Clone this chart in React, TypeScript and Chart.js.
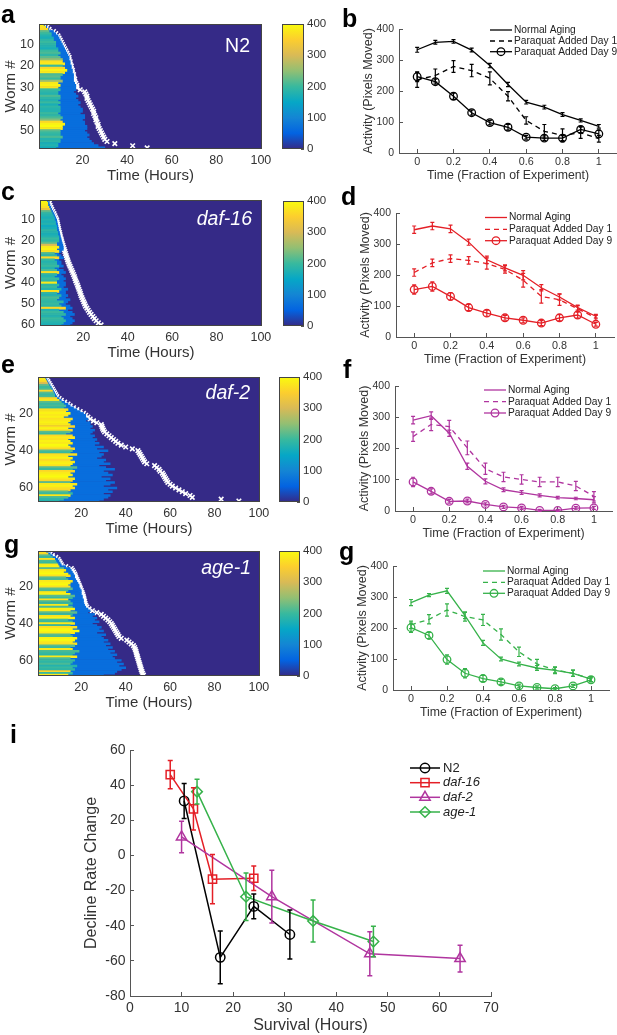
import React, { useEffect, useRef } from 'react';
import { Chart, registerables } from 'chart.js';
import { drawPoint } from 'chart.js/helpers';

Chart.register(...registerables);

const FONT = "'Liberation Sans', Arial, Helvetica, sans-serif";
Chart.defaults.font.family = FONT;
Chart.defaults.color = '#333';

const W = 617;
const H = 1035;

// ---------------- DATA ----------------
const HEAT_TIME_TICKS = [20, 40, 60, 80, 100];
const COLORBAR_TICKS = [0, 100, 200, 300, 400];
const MID_ACTIVITY = 66;

const N2_WORM_TICKS = [10, 20, 30, 40, 50];
const N2_DEATH = [3,4,5,7,8,9,9.5,10,10.5,11, 11.5,12,12.5,13,13.5,14,14,14.5,14.5,15, 15,15.5,15.5,16,16,16.5,16.5,17,17.5,17.5, 19,21,21.5,22,22,22.5,23,23.5,24,24.5, 25,25,25.5,26,26,26.5,27,27,27.5,28, 28.5,29,29.5,30,31,34.5,42.5,49];
const N2_HI_END = [2.5,3.5,4.5,5,6,6,7,7,8,8, 8,9,9,10,9,10,11,11,12,11, 12,13,12,11,10,10,11,9,10,9, 10,9,9,10,10,9,10,9,10,10, 10,9,10,11,10,11,12,11,11,10, 10,10,11,10,10,9,9,8];
const N2_HI_LEVEL = [390,370,360,220,200,180,170,190,200,190, 180,170,200,210,190,220,250,370,380,200, 360,390,380,210,220,200,260,380,390,370, 200,190,180,210,190,180,200,170,190,180, 180,200,190,210,240,360,390,400,380,220, 200,190,210,180,190,170,180,160];
const N2_MID_END = [3,4,5,7,8,9,9.5,10,10.5,11, 11.5,12,12.5,13,13.5,14,14,14.5,14.5,15, 15,15.5,15.5,16,16,16,16,16.5,17,17, 17,16,17,18,17,18,19,18,19,20, 20,19,21,21,20,21,21,22,22,21, 22,23,22,23,24,25,27,30];

const D16_WORM_TICKS = [10, 20, 30, 40, 50, 60];
const D16_DEATH = [4.3,4.7,5,5.4,5.8,6.3,6.8,7.2,7.6,8, 8.2,8.4,8.6,8.8,9,9.3,9.5,9.7,10,10.2, 10.5,10.8,11.1,11.4,11.7,12,12.3,12.6,12.9,13.2, 13.6,14,14.4,14.8,15.2,15.6,16,16.3,16.6,17, 17.4,17.7,18,18.4,18.7,19,19.4,19.8,20.2,20.6, 21,21.6,22.2,22.8,23.5,24.3,25,25.8,26.8,28];
const D16_HI_END = [3.5,4,4,4.5,5,5.5,6,6.5,7,7, 7.5,7.5,8,8,8,8.5,8.5,9,9,9, 8,8,9,8,9,7,8,9,7,8, 8,9,7,8,9,8,7,9,8,8, 9,8,10,9,8,10,9,8,11,9, 10,12,9,11,12,10,11,12,11,10];
const D16_HI_LEVEL = [400,390,380,370,330,220,190,180,170,180, 170,180,160,170,190,180,170,180,200,190, 220,300,380,390,370,210,190,360,200,180, 190,200,180,210,370,190,180,200,190,380, 190,200,180,370,190,180,210,200,190,200, 190,360,180,200,190,180,200,190,180,170];
const D16_MID_END = [4.3,4.7,5,5.4,5.8,6.3,6.8,7.2,7.6,8, 8.2,8.4,8.6,8.8,9,9.3,9.5,9.7,10,10.2, 10.5,10.8,11,11,10,9,10,11,9,10, 10,11,9,11,12,10,11,12,11,12, 12,11,13,12,12,13,12,14,13,12, 14,15,13,15,16,14,15,16,15,14];

const D2_WORM_TICKS = [20, 40, 60];
const D2_DEATH = [4,4.5,5,5.5,6,6.5,7,7.5,8,8.5, 9,10,11,12.5,14,15,16.5,18,19.5,21, 22,23,24,25.5,27,29,29.3,29.6,30,30.5, 31.5,32.5,33.5,34.5,35.5,36.5,38,40,43,45.5, 46,46.5,47,47.5,48,48.5,49.5,53,54,55, 55.5,56.5,57,57.5,58,58.5,59,60,61,62.5, 64,65.5,67,69,70,83,91];
const D2_HI_END = [3.5,4,4.5,5,5.5,6,6.5,7,7.5,8, 8,9,10,11,12,13,12,14,13,15, 14,12,16,15,14,15,17,14,16,15, 13,16,17,14,15,16,14,15,17,16, 15,18,14,16,15,17,16,15,18,16, 17,15,16,14,17,16,15,18,16,17, 15,14,16,15,14,12,10];
const D2_HI_LEVEL = [390,380,360,300,220,200,210,360,220,200, 210,360,380,220,200,210,190,370,380,390, 380,390,370,380,390,380,360,390,370,220, 200,360,380,370,390,380,400,390,360,220, 200,370,380,390,360,380,390,370,220,200, 360,380,390,400,380,360,220,380,390,370, 360,220,200,380,210,190,180];
const D2_MID_END = [4,4.5,5,5.5,6,6.5,7,7.5,8,8.5, 9,10,11,12.5,14,15,16.5,18,19.5,21, 22,22,23,22,24,24,25,24,26,25, 24,26,25,27,26,28,26,30,27,32, 28,30,29,27,31,30,33,28,31,35, 30,32,34,29,33,31,35,33,30,36, 32,34,30,33,32,30,28];

const A1_WORM_TICKS = [20, 40, 60];
const A1_DEATH = [5,6,7,8.5,9.5,10,10.5,11,13,15.5, 16,16.5,17,17.3,17.6,18,18.3,18.6,19,19.3, 19.6,20,20.3,20.6,20.9,21.1,21.3,21.5,21.7,22, 22.5,23.5,25,27,29,30,31,32,32.8,33.5, 34,34.5,35,35.5,36,36.5,37,38,40.5,41.5, 42.5,43.5,44,44.3,44.6,44.8,45,45.3,45.5,45.8, 46,46.3,46.5,46.8,47,47.3,47.6,48];
const A1_HI_END = [4,5,6,7,8,8.5,9,9.5,10,12, 13,12,14,15,13,14,16,15,14,15, 16,14,13,15,17,16,14,15,16,14, 16,17,15,18,16,15,17,14,16,17, 15,18,16,19,17,15,16,18,17,16, 18,17,15,16,19,17,16,18,15,17, 16,15,18,16,17,15,16,14];
const A1_HI_LEVEL = [380,360,220,200,370,210,200,380,390,220, 380,390,400,370,220,210,380,390,400,370, 220,210,380,390,220,200,370,210,200,380, 210,390,380,220,200,370,390,210,200,380, 200,370,390,400,380,220,210,390,400,380, 370,220,200,380,210,200,190,380,210,200, 190,210,180,200,190,360,200,380];
const A1_MID_END = [5,6,7,8.5,9.5,10,10.5,11,13,15, 15.5,16,16.5,17,17,17.5,18,18.5,19,19, 19.5,20,20,20,20.5,20.5,21,21,21.2,21.5, 22,23,24,23,26,25,27,26,28,25, 27,29,28,30,27,31,29,30,32,30, 33,31,34,32,35,33,36,34,35,38, 36,39,37,40,38,36,35,30];

const TIME_FRACTION = [0, 0.1, 0.2, 0.3, 0.4, 0.5, 0.6, 0.7, 0.8, 0.9, 1];
const FRACTION_TICKS = [0, 0.2, 0.4, 0.6, 0.8, 1];
const ACTIVITY_TICKS = [0, 100, 200, 300, 400];
const ACTIVITY_LABELS = ['Normal Aging', 'Paraquat Added Day 1', 'Paraquat Added Day 9'];

const N2_NORMAL = [333, 357, 360, 332, 282, 221, 164, 148, 124, 105, 86];
const N2_NORMAL_ERR = [8, 6, 6, 6, 7, 7, 6, 6, 6, 5, 6];
const N2_DAY1 = [236, 250, 279, 266, 241, 183, 105, 70, 57, 65, 46];
const N2_DAY1_ERR = [24, 21, 19, 20, 21, 15, 12, 22, 21, 18, 11];
const N2_DAY9 = [246, 230, 183, 130, 98, 83, 51, 48, 48, 76, 62];
const N2_DAY9_ERR = [16, 8, 10, 8, 7, 9, 6, 7, 8, 10, 12];

const D16_NORMAL = [346, 358, 349, 306, 249, 223, 199, 159, 129, 95, 67];
const D16_NORMAL_ERR = [12, 12, 12, 10, 12, 10, 15, 10, 10, 8, 6];
const D16_DAY1 = [208, 239, 253, 247, 237, 218, 183, 131, 120, 91, 62];
const D16_DAY1_ERR = [12, 12, 12, 12, 18, 12, 22, 22, 18, 10, 8];
const D16_DAY9 = [153, 163, 131, 95, 77, 62, 54, 45, 62, 71, 41];
const D16_DAY9_ERR = [15, 15, 12, 10, 10, 8, 8, 8, 10, 10, 6];

const D2_NORMAL = [291, 305, 249, 143, 95, 68, 59, 50, 43, 40, 36];
const D2_NORMAL_ERR = [12, 12, 10, 10, 8, 6, 6, 5, 4, 4, 10];
const D2_DAY1 = [238, 277, 270, 202, 135, 109, 101, 93, 93, 80, 47];
const D2_DAY1_ERR = [15, 20, 20, 22, 18, 15, 15, 15, 15, 15, 15];
const D2_DAY9 = [93, 63, 31, 32, 21, 13, 10, 2, 2, 9, 10];
const D2_DAY9_ERR = [15, 8, 6, 6, 5, 5, 5, 3, 3, 5, 5];

const A1_NORMAL = [282, 306, 320, 240, 152, 100, 84, 71, 63, 54, 35];
const A1_NORMAL_ERR = [10, 5, 8, 10, 8, 6, 6, 8, 10, 10, 8];
const A1_DAY1 = [210, 228, 258, 237, 226, 179, 123, 84, 65, 54, 35];
const A1_DAY1_ERR = [12, 15, 20, 15, 18, 18, 15, 15, 10, 10, 8];
const A1_DAY9 = [201, 176, 98, 54, 37, 26, 13, 8, 4, 13, 33];
const A1_DAY9_ERR = [15, 10, 15, 15, 10, 8, 6, 5, 4, 5, 6];

const STRAIN_LABELS = ['N2', 'daf-16', 'daf-2', 'age-1'];
const SURVIVAL_TICKS = [0, 10, 20, 30, 40, 50, 60, 70];
const DECLINE_TICKS = [-80, -60, -40, -20, 0, 20, 40, 60];
const N2_SURV = [10.5, 17.5, 24, 31];
const N2_RATE = [31, -58, -29, -45];
const N2_RATE_ERR = [10, 15, 7, 14];
const D16_SURV = [7.8, 12.3, 16, 24];
const D16_RATE = [46, 26.5, -13.5, -13];
const D16_RATE_ERR = [8, 12, 14, 7];
const D2_SURV = [10, 27.5, 46.5, 64];
const D2_RATE = [10.5, -23.5, -56, -58.7];
const D2_RATE_ERR = [9, 15, 12.5, 7.6];
const A1_SURV = [13, 22.5, 35.5, 47.2];
const A1_RATE = [36.3, -23.5, -37.3, -49];
const A1_RATE_ERR = [7, 13.5, 12, 8.7];

// ---------------- STYLE ----------------
const PARULA = ['#352a87', '#0363e1', '#1485d4', '#06a7c6', '#38b99e', '#92bf73', '#d9ba56', '#fcce2e', '#f9fb0e'];
const BLACK = '#000000';
const RED = '#e41f26';
const MAGENTA = '#b0359f';
const GREEN = '#36b24a';
const AXIS = '#555555';

function hexRgb(h: string) {
  return [parseInt(h.slice(1, 3), 16), parseInt(h.slice(3, 5), 16), parseInt(h.slice(5, 7), 16)];
}
function parula(v: number) {
  const t = Math.max(0, Math.min(1, v / 400)) * (PARULA.length - 1);
  const i = Math.min(PARULA.length - 2, Math.floor(t));
  const f = t - i;
  const a = hexRgb(PARULA[i]);
  const b = hexRgb(PARULA[i + 1]);
  const c = a.map((x, k) => Math.round(x + (b[k] - x) * f));
  return `rgb(${c[0]},${c[1]},${c[2]})`;
}

type Area = { l: number; r: number; t: number; b: number };

function layoutFor(area: Area, leftW: number, bottomH: number, rightW = 0) {
  return {
    autoPadding: false,
    padding: { left: area.l - leftW, top: area.t, right: W - area.r - rightW, bottom: H - area.b - bottomH },
  };
}
const zeroPad = (s: any) => {
  s.paddingTop = 0; s.paddingBottom = 0; s.paddingLeft = 0; s.paddingRight = 0;
};
const fitW = (w: number) => (s: any) => { s.width = w; zeroPad(s); };
const fitH = (h: number) => (s: any) => { s.height = h; zeroPad(s); };
const fixedTicks = (vals: number[]) => (s: any) => { s.ticks = vals.map((v) => ({ value: v })); };

// ---------------- PLUGINS ----------------
const fillAreaPlugin = (color: string) => ({
  id: 'fillArea',
  beforeDatasetsDraw(chart: any) {
    const { ctx, chartArea: a } = chart;
    ctx.save();
    ctx.fillStyle = color;
    ctx.fillRect(a.left, a.top, a.right - a.left, a.bottom - a.top);
    ctx.restore();
  },
});
const frameBoxPlugin = (color: string) => ({
  id: 'frameBox',
  afterDraw(chart: any) {
    const { ctx, chartArea: a } = chart;
    ctx.save();
    ctx.strokeStyle = color;
    ctx.lineWidth = 1;
    ctx.strokeRect(Math.round(a.left) + 0.5, Math.round(a.top) + 0.5, Math.round(a.right - a.left) - 1, Math.round(a.bottom - a.top) - 1);
    ctx.restore();
  },
});
const errorBarPlugin = {
  id: 'errorBars',
  afterDatasetsDraw(chart: any, _a: any, opts: any) {
    const { ctx } = chart;
    const ys = chart.scales.y;
    chart.data.datasets.forEach((ds: any, i: number) => {
      if (!ds.errors) return;
      const meta = chart.getDatasetMeta(i);
      ctx.save();
      ctx.strokeStyle = ds.borderColor;
      ctx.lineWidth = opts.width;
      ctx.setLineDash([]);
      ctx.beginPath();
      meta.data.forEach((pt: any, j: number) => {
        const v = ds.data[j].y;
        const e = ds.errors[j];
        const x = pt.x;
        const y1 = ys.getPixelForValue(v - e);
        const y2 = ys.getPixelForValue(v + e);
        ctx.moveTo(x, y1); ctx.lineTo(x, y2);
        ctx.moveTo(x - opts.cap, y1); ctx.lineTo(x + opts.cap, y1);
        ctx.moveTo(x - opts.cap, y2); ctx.lineTo(x + opts.cap, y2);
      });
      ctx.stroke();
      ctx.restore();
    });
  },
};
const legendPlugin = {
  id: 'mlLegend',
  afterDraw(chart: any, _a: any, o: any) {
    if (!o || !o.rows) return;
    const { ctx } = chart;
    chart.data.datasets.forEach((ds: any, i: number) => {
      const y = o.rows[i];
      ctx.save();
      ctx.strokeStyle = ds.borderColor;
      ctx.lineWidth = ds.borderWidth;
      ctx.setLineDash(ds.borderDash || []);
      ctx.beginPath();
      ctx.moveTo(o.x, y);
      ctx.lineTo(o.x + o.len, y);
      ctx.stroke();
      ctx.setLineDash([]);
      if (ds.pointRadius > 0) {
        ctx.fillStyle = 'rgba(0,0,0,0)';
        ctx.lineWidth = ds.pointBorderWidth;
        drawPoint(ctx, { pointStyle: ds.pointStyle, radius: ds.pointRadius, borderWidth: ds.pointBorderWidth, rotation: 0 } as any, o.x + o.len / 2, y);
      }
      const it = o.italic && o.italic[i];
      ctx.fillStyle = '#222';
      ctx.font = `${it ? 'italic ' : ''}${o.size}px ${FONT}`;
      ctx.textBaseline = 'middle';
      ctx.textAlign = 'left';
      ctx.fillText(ds.label, o.x + o.len + o.gap, y);
      ctx.restore();
    });
  },
};

// ---------------- CONFIG BUILDERS ----------------
type HeatPanel = { death: number[]; hiEnd: number[]; hiLevel: number[]; midEnd: number[]; yTicks: number[]; area: Area; yW: number };

function heatmapConfig(p: HeatPanel) {
  const rows = p.death.map((_, i) => i + 1);
  return {
    type: 'bar',
    data: {
      datasets: [
        { type: 'bar', data: rows.map((r, i) => ({ x: [0.5, p.hiEnd[i]], y: r })), backgroundColor: p.hiLevel.map(parula), grouped: false, barPercentage: 1, categoryPercentage: 1, borderWidth: 0 },
        { type: 'bar', data: rows.map((r, i) => ({ x: [p.hiEnd[i], p.midEnd[i]], y: r })), backgroundColor: parula(MID_ACTIVITY), grouped: false, barPercentage: 1, categoryPercentage: 1, borderWidth: 0 },
        { type: 'scatter', data: rows.map((r, i) => ({ x: p.death[i], y: r })), pointStyle: 'crossRot', pointRadius: 3.2, pointBorderWidth: 1.6, pointBorderColor: '#ffffff', pointBackgroundColor: '#ffffff' },
      ],
    },
    options: {
      animation: false, responsive: false, events: [], indexAxis: 'y',
      layout: layoutFor(p.area, p.yW, 36),
      plugins: { legend: { display: false }, tooltip: { enabled: false } },
      scales: {
        x: {
          type: 'linear', position: 'bottom', min: 0.5, max: 100.5,
          afterBuildTicks: fixedTicks(HEAT_TIME_TICKS), afterFit: fitH(36),
          grid: { display: false, drawTicks: false }, border: { display: false },
          ticks: { font: { size: 12.5 }, padding: 4, autoSkip: false, maxRotation: 0, callback: (v: any) => String(v) },
          title: { display: true, text: 'Time (Hours)', font: { size: 15 }, padding: 0 },
        },
        y: {
          type: 'linear', position: 'left', reverse: true, offset: false, min: 0.5, max: rows.length + 0.5,
          afterBuildTicks: fixedTicks(p.yTicks), afterFit: fitW(p.yW),
          grid: { display: false, drawTicks: false }, border: { display: false },
          ticks: { font: { size: 12.5 }, padding: 5, autoSkip: false, callback: (v: any) => String(v) },
          title: { display: true, text: 'Worm #', font: { size: 15 }, padding: 0 },
        },
      },
    },
    plugins: [fillAreaPlugin(PARULA[0]), frameBoxPlugin('#444')],
  };
}

function colorbarConfig(area: Area) {
  return {
    type: 'bar',
    data: {
      labels: [''],
      datasets: [{
        data: [[COLORBAR_TICKS[0], COLORBAR_TICKS[COLORBAR_TICKS.length - 1]]],
        borderWidth: 0, barPercentage: 1, categoryPercentage: 1,
        backgroundColor: (ctx: any) => {
          const ca = ctx.chart.chartArea;
          if (!ca) return PARULA[0];
          const g = ctx.chart.ctx.createLinearGradient(0, ca.bottom, 0, ca.top);
          PARULA.forEach((c, i) => g.addColorStop(i / (PARULA.length - 1), c));
          return g;
        },
      }],
    },
    options: {
      animation: false, responsive: false, events: [],
      layout: layoutFor(area, 0, 0, 30),
      plugins: { legend: { display: false }, tooltip: { enabled: false } },
      scales: {
        x: { display: false },
        y: {
          position: 'right', min: 0, max: 400,
          afterBuildTicks: fixedTicks(COLORBAR_TICKS), afterFit: fitW(30),
          grid: { display: true, drawOnChartArea: false, drawTicks: true, tickLength: -3, tickColor: AXIS }, border: { display: false },
          ticks: { font: { size: 11.5 }, padding: 6, autoSkip: false, callback: (v: any) => String(v) },
        },
      },
    },
    plugins: [frameBoxPlugin('#444')],
  };
}

type ActPanel = { color: string; normal: number[]; normalErr: number[]; day1: number[]; day1Err: number[]; day9: number[]; day9Err: number[]; area: Area; legendX: number; legendRows: number[] };

function activityConfig(p: ActPanel) {
  const mk = (vals: number[]) => TIME_FRACTION.map((x, i) => ({ x, y: vals[i] }));
  return {
    type: 'line',
    data: {
      datasets: [
        { label: ACTIVITY_LABELS[0], data: mk(p.normal), errors: p.normalErr, borderColor: p.color, borderWidth: 1.3, pointRadius: 0, tension: 0 },
        { label: ACTIVITY_LABELS[1], data: mk(p.day1), errors: p.day1Err, borderColor: p.color, borderWidth: 1.3, borderDash: [5, 4], pointRadius: 0, tension: 0 },
        { label: ACTIVITY_LABELS[2], data: mk(p.day9), errors: p.day9Err, borderColor: p.color, borderWidth: 1.3, pointRadius: 3.8, pointStyle: 'circle', pointBorderWidth: 1.3, pointBorderColor: p.color, pointBackgroundColor: 'rgba(0,0,0,0)', tension: 0 },
      ],
    },
    options: {
      animation: false, responsive: false, events: [],
      layout: layoutFor(p.area, 37.5, 30),
      plugins: {
        legend: { display: false }, tooltip: { enabled: false },
        errorBars: { cap: 2, width: 1.2 },
        mlLegend: { x: p.legendX, rows: p.legendRows, len: 22, gap: 2, size: 10.2 },
      },
      scales: {
        x: {
          type: 'linear', min: -0.1, max: 1.1,
          afterBuildTicks: fixedTicks(FRACTION_TICKS), afterFit: fitH(30),
          grid: { display: true, drawOnChartArea: false, drawTicks: true, tickLength: -4, tickColor: AXIS },
          border: { display: true, color: AXIS, width: 1 },
          ticks: { font: { size: 10.8 }, padding: 7, autoSkip: false, maxRotation: 0, callback: (v: any) => String(v) },
          title: { display: true, text: 'Time (Fraction of Experiment)', font: { size: 12.3 }, padding: 0 },
        },
        y: {
          type: 'linear', min: 0, max: 400,
          afterBuildTicks: fixedTicks(ACTIVITY_TICKS), afterFit: fitW(37.5),
          grid: { display: true, drawOnChartArea: false, drawTicks: true, tickLength: -4, tickColor: AXIS },
          border: { display: true, color: AXIS, width: 1 },
          ticks: { font: { size: 10.5 }, padding: 9, autoSkip: false, callback: (v: any) => String(v) },
          title: { display: true, text: 'Activity (Pixels Moved)', font: { size: 12.5 }, padding: 0 },
        },
      },
    },
    plugins: [errorBarPlugin, legendPlugin],
  };
}

function declineConfig() {
  const mk = (xs: number[], ys: number[]) => xs.map((x, i) => ({ x, y: ys[i] }));
  const series = [
    { xs: N2_SURV, ys: N2_RATE, err: N2_RATE_ERR, color: BLACK, style: 'circle', r: 4.7 },
    { xs: D16_SURV, ys: D16_RATE, err: D16_RATE_ERR, color: RED, style: 'rect', r: 5.8 },
    { xs: D2_SURV, ys: D2_RATE, err: D2_RATE_ERR, color: MAGENTA, style: 'triangle', r: 6 },
    { xs: A1_SURV, ys: A1_RATE, err: A1_RATE_ERR, color: GREEN, style: 'rectRot', r: 5.3 },
  ];
  const area: Area = { l: 130, r: 491, t: 750, b: 996 };
  return {
    type: 'line',
    data: {
      datasets: series.map((s, i) => ({
        label: STRAIN_LABELS[i], data: mk(s.xs, s.ys), errors: s.err,
        borderColor: s.color, borderWidth: 1.5, tension: 0,
        pointStyle: s.style, pointRadius: s.r, pointBorderWidth: 1.5, pointBorderColor: s.color, pointBackgroundColor: 'rgba(0,0,0,0)',
        order: series.length - i,
      })),
    },
    options: {
      animation: false, responsive: false, events: [],
      layout: layoutFor(area, 48, 39),
      plugins: {
        legend: { display: false }, tooltip: { enabled: false },
        errorBars: { cap: 2.5, width: 1.5 },
        mlLegend: { x: 410, rows: [768, 782.7, 797.3, 812], len: 30, gap: 3, size: 13, italic: [false, true, true, true] },
      },
      scales: {
        x: {
          type: 'linear', min: 0, max: 70,
          afterBuildTicks: fixedTicks(SURVIVAL_TICKS), afterFit: fitH(39),
          grid: { display: true, drawOnChartArea: false, drawTicks: true, tickLength: -4, tickColor: AXIS },
          border: { display: true, color: AXIS, width: 1 },
          ticks: { font: { size: 14 }, padding: 7.5, autoSkip: false, maxRotation: 0, callback: (v: any) => String(v) },
          title: { display: true, text: 'Survival (Hours)', font: { size: 16 }, padding: 0 },
        },
        y: {
          type: 'linear', min: -80, max: 60,
          afterBuildTicks: fixedTicks(DECLINE_TICKS), afterFit: fitW(48),
          grid: { display: true, drawOnChartArea: false, drawTicks: true, tickLength: -4, tickColor: AXIS },
          border: { display: true, color: AXIS, width: 1 },
          ticks: { font: { size: 14 }, padding: 8.5, autoSkip: false, callback: (v: any) => String(v) },
          title: { display: true, text: 'Decline Rate Change', font: { size: 16 }, padding: 0 },
        },
      },
    },
    plugins: [errorBarPlugin, legendPlugin],
  };
}

// ---------------- PANELS ----------------
const HEAT_PANELS: HeatPanel[] = [
  { death: N2_DEATH, hiEnd: N2_HI_END, hiLevel: N2_HI_LEVEL, midEnd: N2_MID_END, yTicks: N2_WORM_TICKS, area: { l: 39, r: 262, t: 24, b: 149 }, yW: 37 },
  { death: D16_DEATH, hiEnd: D16_HI_END, hiLevel: D16_HI_LEVEL, midEnd: D16_MID_END, yTicks: D16_WORM_TICKS, area: { l: 40, r: 262, t: 200, b: 326 }, yW: 38 },
  { death: D2_DEATH, hiEnd: D2_HI_END, hiLevel: D2_HI_LEVEL, midEnd: D2_MID_END, yTicks: D2_WORM_TICKS, area: { l: 38, r: 260, t: 377, b: 502 }, yW: 36 },
  { death: A1_DEATH, hiEnd: A1_HI_END, hiLevel: A1_HI_LEVEL, midEnd: A1_MID_END, yTicks: A1_WORM_TICKS, area: { l: 38, r: 260, t: 551, b: 676 }, yW: 36 },
];
const COLORBAR_AREAS: Area[] = [
  { l: 282, r: 304, t: 24, b: 149 },
  { l: 283, r: 304, t: 201, b: 326 },
  { l: 279, r: 300, t: 377, b: 502 },
  { l: 279, r: 300, t: 551, b: 676 },
];
const ACT_PANELS: ActPanel[] = [
  { color: BLACK, normal: N2_NORMAL, normalErr: N2_NORMAL_ERR, day1: N2_DAY1, day1Err: N2_DAY1_ERR, day9: N2_DAY9, day9Err: N2_DAY9_ERR, area: { l: 399, r: 617, t: 29, b: 153 }, legendX: 490, legendRows: [30, 41, 51.7] },
  { color: RED, normal: D16_NORMAL, normalErr: D16_NORMAL_ERR, day1: D16_DAY1, day1Err: D16_DAY1_ERR, day9: D16_DAY9, day9Err: D16_DAY9_ERR, area: { l: 396, r: 614, t: 213, b: 337 }, legendX: 485, legendRows: [217.5, 229.3, 240.7] },
  { color: MAGENTA, normal: D2_NORMAL, normalErr: D2_NORMAL_ERR, day1: D2_DAY1, day1Err: D2_DAY1_ERR, day9: D2_DAY9, day9Err: D2_DAY9_ERR, area: { l: 395, r: 612, t: 386, b: 511 }, legendX: 484, legendRows: [390, 401.7, 413] },
  { color: GREEN, normal: A1_NORMAL, normalErr: A1_NORMAL_ERR, day1: A1_DAY1, day1Err: A1_DAY1_ERR, day9: A1_DAY9, day9Err: A1_DAY9_ERR, area: { l: 393, r: 609, t: 566, b: 690 }, legendX: 483, legendRows: [571, 582.3, 593.3] },
];

const LAYERS: Array<() => any> = [
  ...HEAT_PANELS.map((p) => () => heatmapConfig(p)),
  ...COLORBAR_AREAS.map((a) => () => colorbarConfig(a)),
  ...ACT_PANELS.map((p) => () => activityConfig(p)),
  () => declineConfig(),
];

const PANEL_LETTERS = [
  { t: 'a', x: 1, y: 2 }, { t: 'b', x: 342, y: 6 },
  { t: 'c', x: 1, y: 179 }, { t: 'd', x: 341, y: 184 },
  { t: 'e', x: 1, y: 352 }, { t: 'f', x: 343, y: 357 },
  { t: 'g', x: 4, y: 532 }, { t: 'g', x: 339, y: 539 },
  { t: 'i', x: 10, y: 722 },
];
const INNER_LABELS = [
  { t: 'N2', right: 250, y: 36, italic: false },
  { t: 'daf-16', right: 252, y: 209, italic: true },
  { t: 'daf-2', right: 250, y: 383, italic: true },
  { t: 'age-1', right: 251, y: 558, italic: true },
];

function ChartLayer({ make }: { make: () => any }) {
  const ref = useRef<HTMLCanvasElement>(null);
  useEffect(() => {
    const chart = new Chart(ref.current as HTMLCanvasElement, make());
    return () => chart.destroy();
  }, [make]);
  return (
    <canvas
      ref={ref}
      width={W}
      height={H}
      style={{ position: 'absolute', left: 0, top: 0, width: W, height: H, pointerEvents: 'none' }}
    />
  );
}

export default function App() {
  return (
    <div style={{ position: 'absolute', left: 0, top: 0, width: W, height: H, background: '#ffffff', overflow: 'hidden', fontFamily: FONT }}>
      {LAYERS.map((m, i) => (
        <ChartLayer key={i} make={m} />
      ))}
      {PANEL_LETTERS.map((l, i) => (
        <div key={'l' + i} style={{ position: 'absolute', left: l.x, top: l.y, fontSize: 25, lineHeight: '25px', fontWeight: 'bold', color: '#000' }}>
          {l.t}
        </div>
      ))}
      {INNER_LABELS.map((l, i) => (
        <div key={'n' + i} style={{ position: 'absolute', right: W - l.right, top: l.y, fontSize: 19.5, lineHeight: '19.5px', fontStyle: l.italic ? 'italic' : 'normal', color: '#ffffff', whiteSpace: 'nowrap' }}>
          {l.t}
        </div>
      ))}
    </div>
  );
}
